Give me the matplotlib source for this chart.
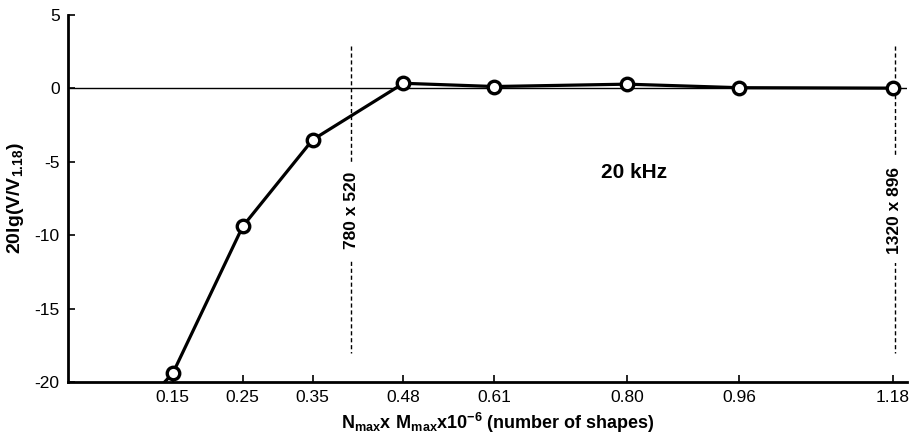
import matplotlib
matplotlib.use("Agg")
import matplotlib.pyplot as plt

# data
shapes = [0.06, 0.15, 0.25, 0.35, 0.48, 0.61, 0.80, 0.96, 1.18]
level_db = [-24.0, -19.4, -9.4, -3.5, 0.35, 0.13, 0.29, 0.05, 0.02]
tick_pos = [0.15, 0.25, 0.35, 0.48, 0.61, 0.80, 0.96, 1.18]
tick_labels = ['0.15', '0.25', '0.35', '0.48', '0.61', '0.80', '0.96', '1.18']
marker_lines = [780 * 520 / 1e6, 1320 * 896 / 1e6]
marker_texts = ['780 x 520', '1320 x 896']

plt.rcParams['font.family'] = ['Liberation Sans', 'DejaVu Sans']
plt.rcParams['axes.unicode_minus'] = False
plt.rcParams['mathtext.fontset'] = 'custom'
plt.rcParams['mathtext.rm'] = 'Liberation Sans'
plt.rcParams['mathtext.bf'] = 'Liberation Sans:bold'

fig = plt.figure(figsize=(9.13, 4.42), dpi=100)
ax = fig.add_axes([0.0745, 0.1357, 0.9185, 0.8303])

ax.axhline(0, color='black', lw=1.0, zorder=1)

for xv, txt in zip(marker_lines, marker_texts):
    ax.plot([xv, xv], [2.9, -18.0], color='black', lw=1.0, ls=(0, (3, 2)), zorder=1)
    ax.text(xv, -8.3, txt, rotation=90, ha='center', va='center', fontsize=12.5,
            fontweight='bold', bbox=dict(facecolor='white', edgecolor='none', pad=7), zorder=2)

ax.plot(shapes, level_db, color='black', lw=2.3, marker='o', markersize=9,
        markerfacecolor='white', markeredgecolor='black', markeredgewidth=2.4, zorder=3)

ax.text(0.81, -5.7, '20 kHz', ha='center', va='center', fontsize=15, fontweight='bold')

ax.set_xlim(0, 1.2)
ax.set_ylim(-20, 5)
ax.set_xticks(tick_pos)
ax.set_xticklabels(tick_labels)
ax.set_yticks([5, 0, -5, -10, -15, -20])
ax.tick_params(direction='in', length=5, width=1.2, labelsize=12.5, pad=6)

for side in ['top', 'right']:
    ax.spines[side].set_visible(False)
for side in ['left', 'bottom']:
    ax.spines[side].set_linewidth(2)

ax.set_ylabel(r'$\mathbf{20lg(V/V_{1.18})}$', fontsize=14, labelpad=6)
ax.set_xlabel(r'$\mathbf{N_{max}x\ M_{max}x10^{-6}}$' + ' (number of shapes)',
              fontsize=13, fontweight='bold')
ax.xaxis.set_label_coords(0.512, -0.08)

fig.savefig('out.png', dpi=100)
